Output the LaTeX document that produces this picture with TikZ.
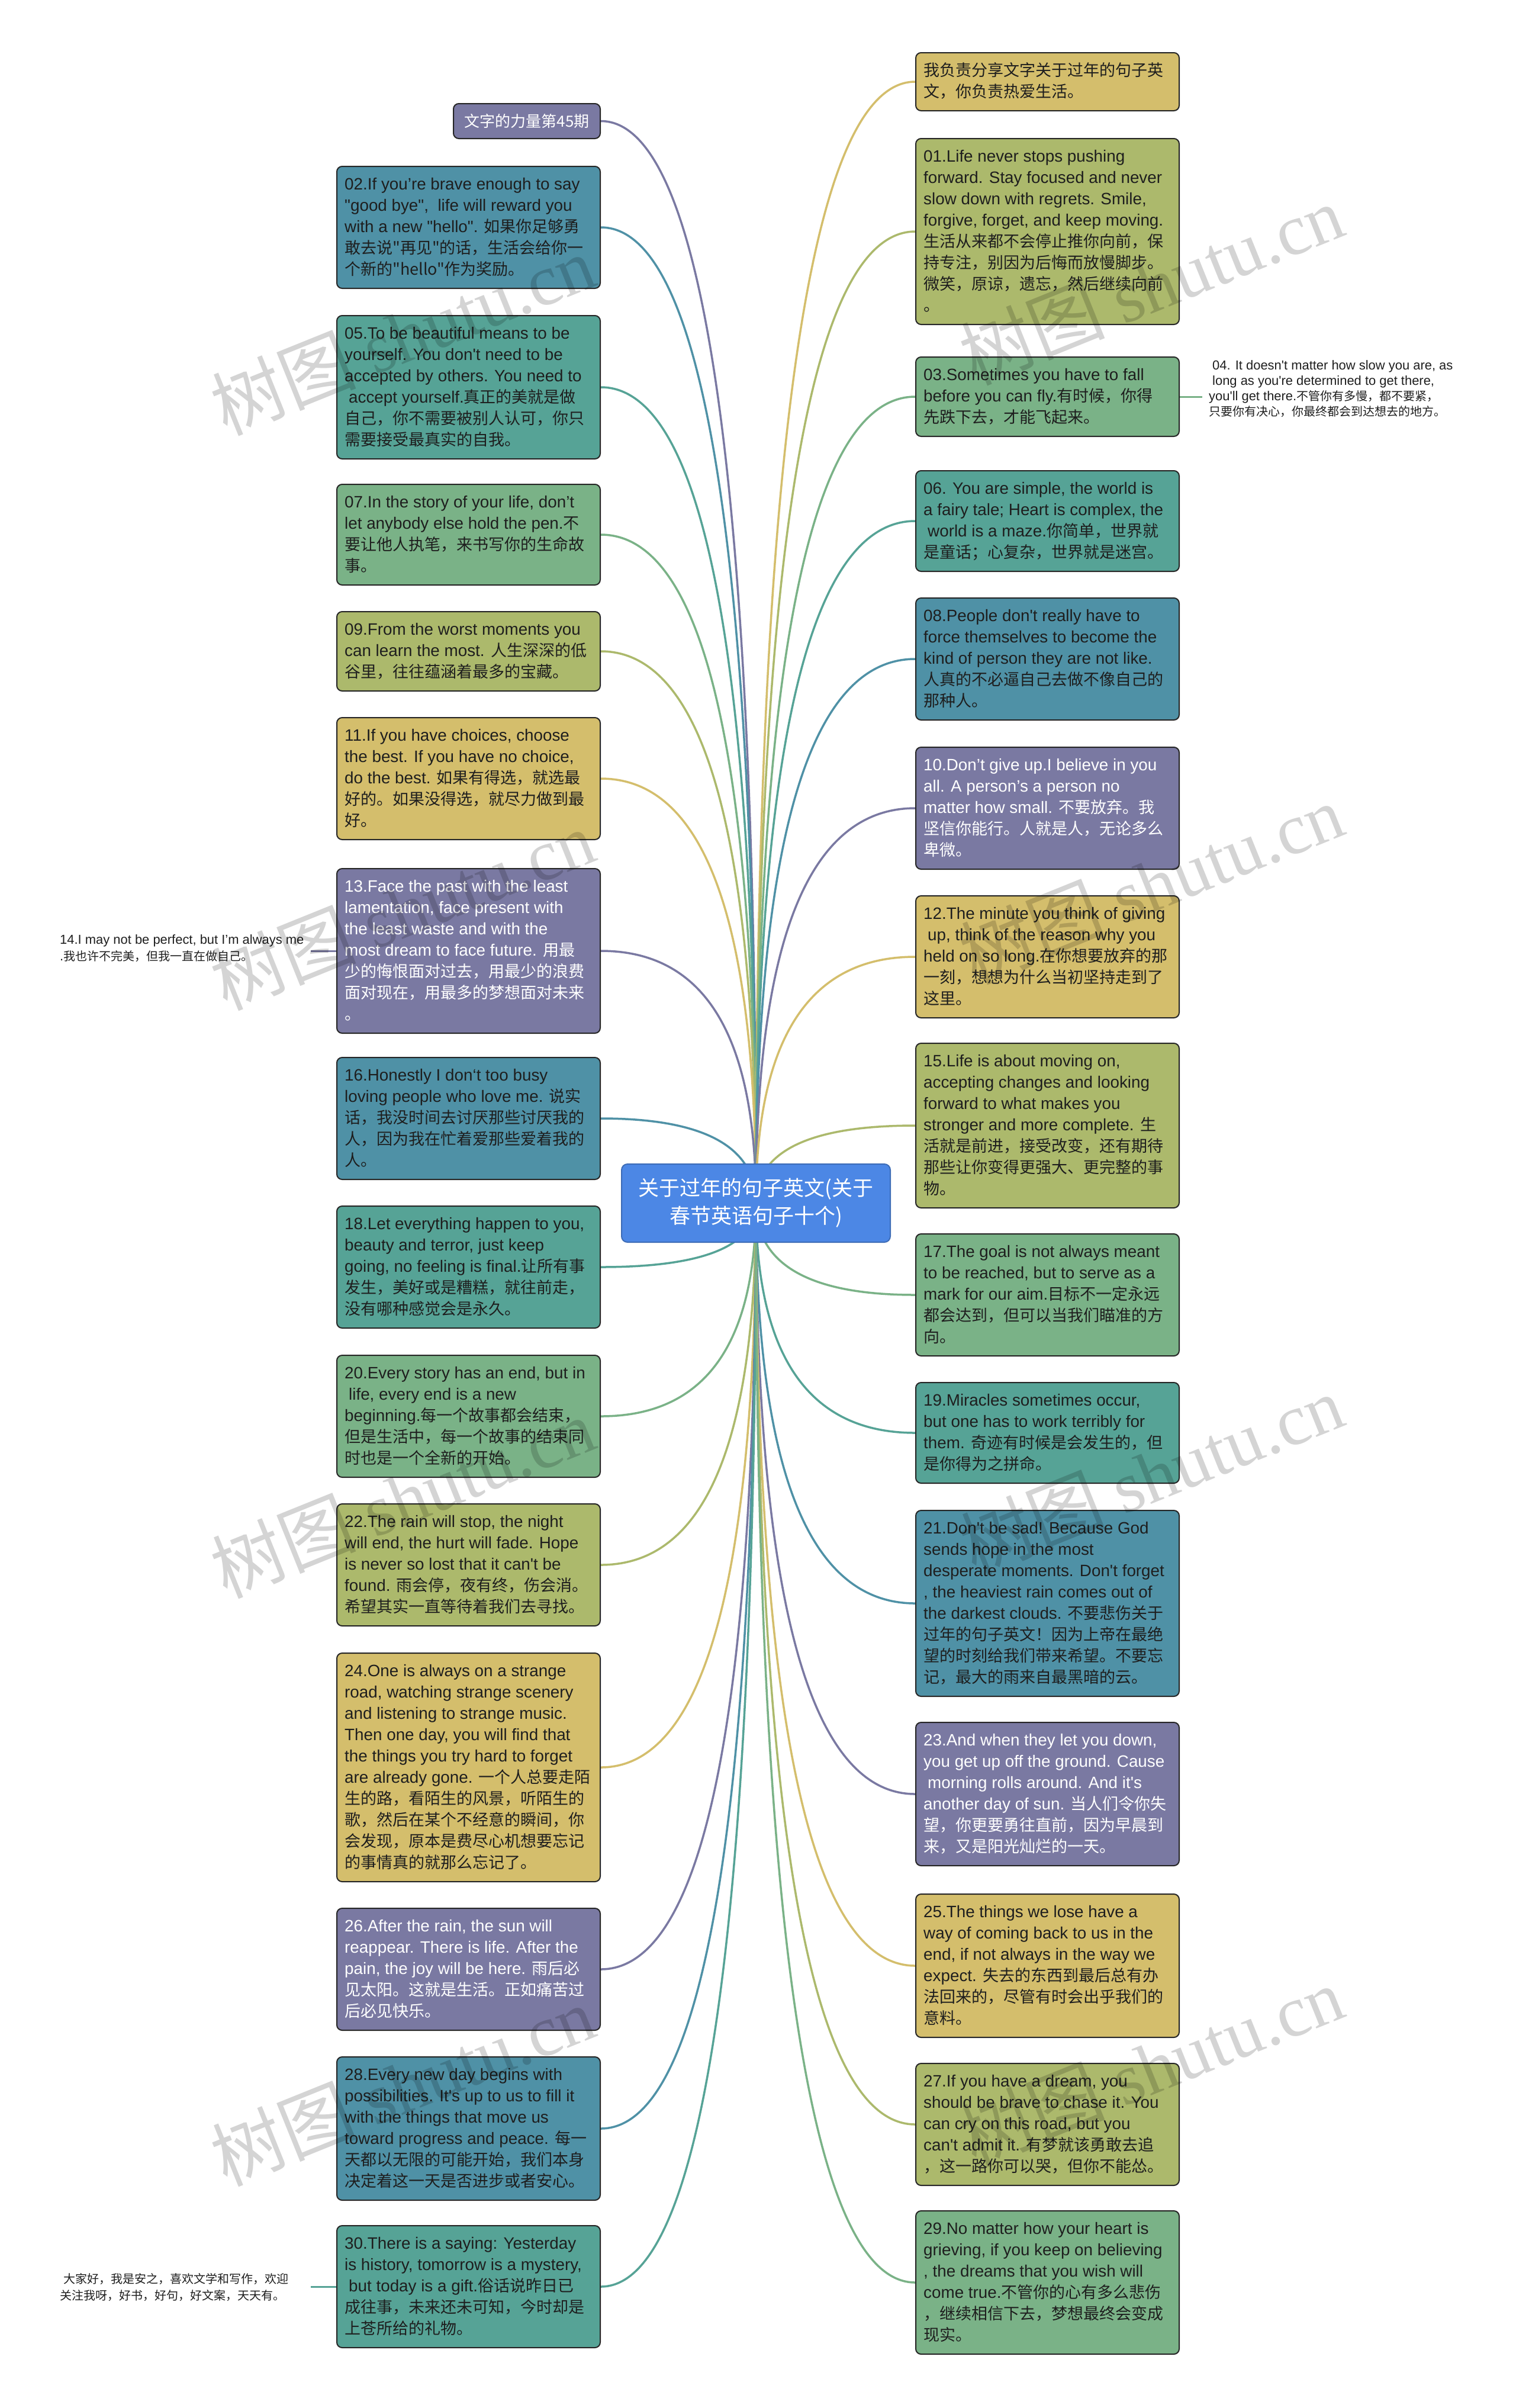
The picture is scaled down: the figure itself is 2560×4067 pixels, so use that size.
\documentclass[tikz,border=0pt]{standalone}
\usepackage{fontspec}
\usetikzlibrary{calc}
\newfontfamily\en[Scale=1.03]{Liberation Sans}
\newfontfamily\zh{Noto Sans CJK SC}
\newfontfamily\wmser{Liberation Serif}
\newcommand\zhs{\zh\fontsize{20}{26}\selectfont}
\definecolor{cPur}{RGB}{122,121,162}
\definecolor{cBlu}{RGB}{79,145,166}
\definecolor{cTea}{RGB}{86,163,150}
\definecolor{cGrn}{RGB}{122,178,135}
\definecolor{cOli}{RGB}{172,185,108}
\definecolor{cYel}{RGB}{212,190,108}
\definecolor{cRoot}{RGB}{76,135,229}
\definecolor{tdark}{RGB}{30,30,30}
\pgfdeclarelayer{bg}
\pgfsetlayers{bg,main}
\newcommand\lsp{\hspace*{7pt}}
\newcommand\mkcard[7]{%
  \node[card, fill=#5, minimum height={36*#4+26}] (#1) at (#2,#3) {};
  \node[txt, text=#6] (#1t) at ($(#1.north west)+(14,14)$) {\rule{0pt}{26pt}#7};}
\newcommand\link[2]{%
  \coordinate (lk) at (root.center |- #1);
  \draw[conn, draw=#2] (root.center) .. controls ($(root.center)!0.6667!(lk)$) and ($(#1)!0.6667!(lk)$) .. (#1);}
\begin{document}
\begin{tikzpicture}[x=1pt,y=-1pt,
  card/.style={draw=black!85, line width=2pt, rounded corners=9pt, minimum width=445pt, inner sep=0pt, anchor=north west},
  txt/.style={anchor=north west, inner sep=0pt, align=left, font=\en\fontsize{27}{36}\selectfont},
  conn/.style={line width=3.5pt},
  noteconn/.style={line width=3pt},
  note/.style={anchor=north west, inner sep=0pt, align=left, text=tdark},
  wm/.style={text=black, text opacity=0.17, rotate=22, font=\fontsize{122}{122}\selectfont}
]
\useasboundingbox (0,0) rectangle (2560,4067);

% root
\node[draw=cRoot!80!black, line width=2pt, fill=cRoot, rounded corners=10pt, minimum width=454pt, minimum height=132pt, inner sep=0pt, align=center, text=white, font=\zh\fontsize{35}{47}\selectfont] (root) at (1277,2032) {关于过年的句子英文(关于\\春节英语句子十个)};

% left column
\node[card, fill=cPur, minimum width=248pt, minimum height=59pt, text=white, font=\zh\fontsize{26}{30}\selectfont] (L1) at (765,174) {文字的力量第45期};
\mkcard{L2}{568}{280}{5}{cBlu}{tdark}{02.If you’re brave enough to say\\"good bye", \ life will reward you\\with a new "hello". \zh 如果你足够勇\\\zh 敢去说"再见"的话，生活会给你一\\\zh 个新的"hello"作为奖励。}
\mkcard{L3}{568}{532}{6}{cTea}{tdark}{05.To be beautiful means to be\\yourself. You don't need to be\\accepted by others. You need to\\\lsp accept yourself.\zh 真正的美就是做\\\zh 自己，你不需要被别人认可，你只\\\zh 需要接受最真实的自我。}
\mkcard{L4}{568}{817}{4}{cGrn}{tdark}{07.In the story of your life, don’t\\let anybody else hold the pen.\zh 不\\\zh 要让他人执笔，来书写你的生命故\\\zh 事。}
\mkcard{L5}{568}{1032}{3}{cOli}{tdark}{09.From the worst moments you\\can learn the most. \zh 人生深深的低\\\zh 谷里，往往蕴涵着最多的宝藏。}
\mkcard{L6}{568}{1211}{5}{cYel}{tdark}{11.If you have choices, choose\\the best. If you have no choice,\\do the best. \zh 如果有得选，就选最\\\zh 好的。如果没得选，就尽力做到最\\\zh 好。}
\mkcard{L7}{568}{1466}{7}{cPur}{white}{13.Face the past with the least\\lamentation, face present with\\the least waste and with the\\most dream to face future. \zh 用最\\\zh 少的悔恨面对过去，用最少的浪费\\\zh 面对现在，用最多的梦想面对未来\\\zh 。}
\mkcard{L8}{568}{1785}{5}{cBlu}{tdark}{16.Honestly I don‘t too busy\\loving people who love me. \zh 说实\\\zh 话，我没时间去讨厌那些讨厌我的\\\zh 人，因为我在忙着爱那些爱着我的\\\zh 人。}
\mkcard{L9}{568}{2036}{5}{cTea}{tdark}{18.Let everything happen to you,\\beauty and terror, just keep\\going, no feeling is final.\zh 让所有事\\\zh 发生，美好或是糟糕，就往前走，\\\zh 没有哪种感觉会是永久。}
\mkcard{L10}{568}{2288}{5}{cGrn}{tdark}{20.Every story has an end, but in\\\lsp life, every end is a new\\beginning.\zh 每一个故事都会结束，\\\zh 但是生活中，每一个故事的结束同\\\zh 时也是一个全新的开始。}
\mkcard{L11}{568}{2539}{5}{cOli}{tdark}{22.The rain will stop, the night\\will end, the hurt will fade. Hope\\is never so lost that it can't be\\found. \zh 雨会停，夜有终，伤会消。\\\zh 希望其实一直等待着我们去寻找。}
\mkcard{L12}{568}{2791}{10}{cYel}{tdark}{24.One is always on a strange\\road, watching strange scenery\\and listening to strange music.\\Then one day, you will find that\\the things you try hard to forget\\are already gone. \zh 一个人总要走陌\\\zh 生的路，看陌生的风景，听陌生的\\\zh 歌，然后在某个不经意的瞬间，你\\\zh 会发现，原本是费尽心机想要忘记\\\zh 的事情真的就那么忘记了。}
\mkcard{L13}{568}{3222}{5}{cPur}{white}{26.After the rain, the sun will\\reappear. There is life. After the\\pain, the joy will be here. \zh 雨后必\\\zh 见太阳。这就是生活。正如痛苦过\\\zh 后必见快乐。}
\mkcard{L14}{568}{3473}{6}{cBlu}{tdark}{28.Every new day begins with\\possibilities. It's up to us to fill it\\with the things that move us\\toward progress and peace. \zh 每一\\\zh 天都以无限的可能开始，我们本身\\\zh 决定着这一天是否进步或者安心。}
\mkcard{L15}{568}{3758}{5}{cTea}{tdark}{30.There is a saying: Yesterday\\is history, tomorrow is a mystery,\\\lsp but today is a gift.\zh 俗话说昨日已\\\zh 成往事，未来还未可知，今时却是\\\zh 上苍所给的礼物。}

% right column
\mkcard{R1}{1546}{88}{2}{cYel}{tdark}{\zh 我负责分享文字关于过年的句子英\\\zh 文，你负责热爱生活。}
\mkcard{R2}{1546}{233}{8}{cOli}{tdark}{01.Life never stops pushing\\forward. Stay focused and never\\slow down with regrets. Smile,\\forgive, forget, and keep moving.\\\zh 生活从来都不会停止推你向前，保\\\zh 持专注，别因为后悔而放慢脚步。\\\zh 微笑，原谅，遗忘，然后继续向前\\\zh 。}
\mkcard{R3}{1546}{602}{3}{cGrn}{tdark}{03.Sometimes you have to fall\\before you can fly.\zh 有时候，你得\\\zh 先跌下去，才能飞起来。}
\mkcard{R4}{1546}{794}{4}{cTea}{tdark}{06. You are simple, the world is\\a fairy tale; Heart is complex, the\\\lsp world is a maze.\zh 你简单，世界就\\\zh 是童话；心复杂，世界就是迷宫。}
\mkcard{R5}{1546}{1009}{5}{cBlu}{tdark}{08.People don't really have to\\force themselves to become the\\kind of person they are not like.\\\zh 人真的不必逼自己去做不像自己的\\\zh 那种人。}
\mkcard{R6}{1546}{1261}{5}{cPur}{white}{10.Don’t give up.I believe in you\\all. A person’s a person no\\matter how small. \zh 不要放弃。我\\\zh 坚信你能行。人就是人，无论多么\\\zh 卑微。}
\mkcard{R7}{1546}{1512}{5}{cYel}{tdark}{12.The minute you think of giving\\\lsp up, think of the reason why you\\held on so long.\zh 在你想要放弃的那\\\zh 一刻，想想为什么当初坚持走到了\\\zh 这里。}
\mkcard{R8}{1546}{1761}{7}{cOli}{tdark}{15.Life is about moving on,\\accepting changes and looking\\forward to what makes you\\stronger and more complete. \zh 生\\\zh 活就是前进，接受改变，还有期待\\\zh 那些让你变得更强大、更完整的事\\\zh 物。}
\mkcard{R9}{1546}{2083}{5}{cGrn}{tdark}{17.The goal is not always meant\\to be reached, but to serve as a\\mark for our aim.\zh 目标不一定永远\\\zh 都会达到，但可以当我们瞄准的方\\\zh 向。}
\mkcard{R10}{1546}{2334}{4}{cTea}{tdark}{19.Miracles sometimes occur,\\but one has to work terribly for\\them. \zh 奇迹有时候是会发生的，但\\\zh 是你得为之拼命。}
\mkcard{R11}{1546}{2550}{8}{cBlu}{tdark}{21.Don't be sad! Because God\\sends hope in the most\\desperate moments. Don't forget\\, the heaviest rain comes out of\\the darkest clouds. \zh 不要悲伤关于\\\zh 过年的句子英文！因为上帝在最绝\\\zh 望的时刻给我们带来希望。不要忘\\\zh 记，最大的雨来自最黑暗的云。}
\mkcard{R12}{1546}{2908}{6}{cPur}{white}{23.And when they let you down,\\you get up off the ground. Cause\\\lsp morning rolls around. And it's\\another day of sun. \zh 当人们令你失\\\zh 望，你更要勇往直前，因为早晨到\\\zh 来，又是阳光灿烂的一天。}
\mkcard{R13}{1546}{3198}{6}{cYel}{tdark}{25.The things we lose have a\\way of coming back to us in the\\end, if not always in the way we\\expect. \zh 失去的东西到最后总有办\\\zh 法回来的，尽管有时会出乎我们的\\\zh 意料。}
\mkcard{R14}{1546}{3484}{5}{cOli}{tdark}{27.If you have a dream, you\\should be brave to chase it. You\\can cry on this road, but you\\can't admit it. \zh 有梦就该勇敢去追\\\zh ，这一路你可以哭，但你不能怂。}
\mkcard{R15}{1546}{3733}{6}{cGrn}{tdark}{29.No matter how your heart is\\grieving, if you keep on believing\\, the dreams that you wish will\\come true.\zh 不管你的心有多么悲伤\\\zh ，继续相信下去，梦想最终会变成\\\zh 现实。}

% side notes
\node[note, font=\en\fontsize{21.3}{26}\selectfont] (n04) at (2042,604) {\rule{0pt}{20pt}\hspace*{6pt}04. It doesn't matter how slow you are, as\\\hspace*{6pt}long as you're determined to get there,\\you'll get there.\zhs 不管你有多慢，都不要紧，\\\zhs 只要你有决心，你最终都会到达想去的地方。};
\node[note, font=\en\fontsize{21.3}{28}\selectfont] (n14) at (101,1574) {\rule{0pt}{20pt}14.I may not be perfect, but I’m always me\\.\zhs 我也许不完美，但我一直在做自己。};
\node[note, font=\zh\fontsize{20}{28}\selectfont] (nbt) at (101,3836) {\rule{0pt}{20pt}\hspace*{6pt}大家好，我是安之，喜欢文学和写作，欢迎\\关注我呀，好书，好句，好文案，天天有。};

% watermarks
\node[wm] (w1) at (680,565) {\zh 树图 \wmser shutu.cn};
\node[wm] (w2) at (680,1536) {\zh 树图 \wmser shutu.cn};
\node[wm] (w3) at (680,2529) {\zh 树图 \wmser shutu.cn};
\node[wm] (w4) at (680,3522) {\zh 树图 \wmser shutu.cn};
\node[wm] (w5) at (1945,480) {\zh 树图 \wmser shutu.cn};
\node[wm] (w6) at (1945,1492) {\zh 树图 \wmser shutu.cn};
\node[wm] (w7) at (1945,2490) {\zh 树图 \wmser shutu.cn};
\node[wm] (w8) at (1945,3489) {\zh 树图 \wmser shutu.cn};

\begin{pgfonlayer}{bg}
\fill[white] (0,0) rectangle (2560,4067);
\link{L1.east}{cPur}
\link{L2.east}{cBlu}
\link{L3.east}{cTea}
\link{L4.east}{cGrn}
\link{L5.east}{cOli}
\link{L6.east}{cYel}
\link{L7.east}{cPur}
\link{L8.east}{cBlu}
\link{L9.east}{cTea}
\link{L10.east}{cGrn}
\link{L11.east}{cOli}
\link{L12.east}{cYel}
\link{L13.east}{cPur}
\link{L14.east}{cBlu}
\link{L15.east}{cTea}
\link{R1.west}{cYel}
\link{R2.west}{cOli}
\link{R3.west}{cGrn}
\link{R4.west}{cTea}
\link{R5.west}{cBlu}
\link{R6.west}{cPur}
\link{R7.west}{cYel}
\link{R8.west}{cOli}
\link{R9.west}{cGrn}
\link{R10.west}{cTea}
\link{R11.west}{cBlu}
\link{R12.west}{cPur}
\link{R13.west}{cYel}
\link{R14.west}{cOli}
\link{R15.west}{cGrn}
\coordinate (c04) at ($(R3.east)+(38,0)$);
\draw[noteconn, draw=cGrn] (R3.east) -- (c04);
\coordinate (c14) at ($(L7.west)+(-43,0)$);
\draw[noteconn, draw=cPur] (c14) -- (L7.west);
\coordinate (cbt) at ($(L15.west)+(-43,0)$);
\draw[noteconn, draw=cTea] (cbt) -- (L15.west);
\end{pgfonlayer}
\end{tikzpicture}
\end{document}
